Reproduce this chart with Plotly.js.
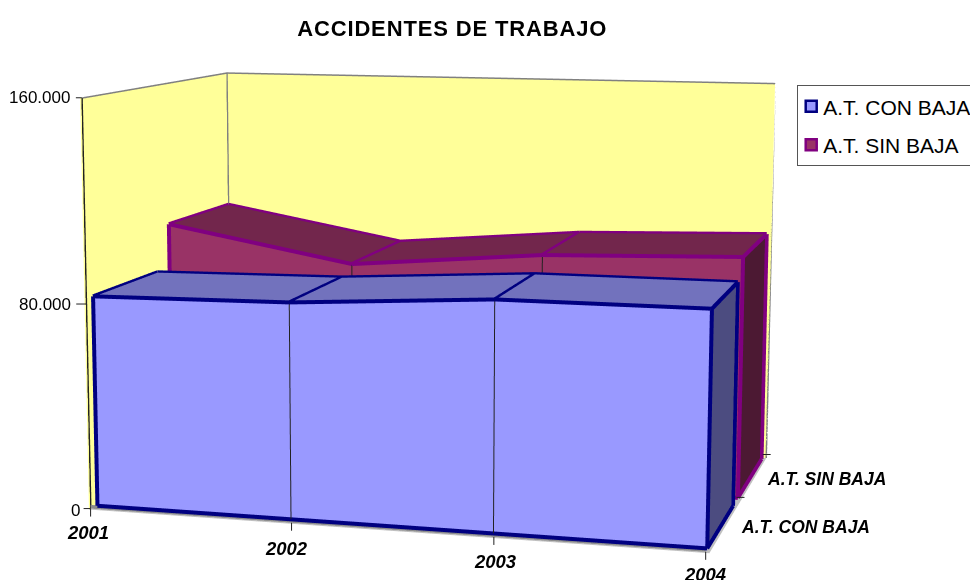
<!DOCTYPE html>
<html><head><meta charset="utf-8"><script src="https://cdn.plot.ly/plotly-3.0.1.min.js"></script>
<style>html,body{margin:0;overflow:hidden;background:#fff;width:970px;height:580px}
.gtitle{letter-spacing:.85px}.legendtext{transform:translateX(-15px)}.legendsymbols{transform:translateX(-7px)}
.legend .traces{opacity:1 !important}</style></head>
<body><div id="c" style="position:absolute"></div>
<script>
const years=['2001','2002','2003','2004'];
const seriesNames=['A.T. CON BAJA','A.T. SIN BAJA'];
const conBaja=[83100,84200,88800,88900];
const sinBaja=[101500,87800,94600,96900];
const zTicks=[0,80000,160000];
const zLabels=['0','80.000','160.000'];

const H=1960,cx=443.79,cy=288.78,left=cx-H/2,top0=cy-H/2;
const aspect={x:1.4735,y:0.9737,z:0.9714};
const eye={x:1.4798,y:-5.5287,z:0.8842},up={x:-0.0661,y:0.2386,z:1};
const dv=document.getElementById('c');dv.style.left=left+'px';dv.style.top=top0+'px';dv.style.width=H+'px';dv.style.height=H+'px';
const px=v=>(v-left)/H,py=v=>1-(v-top0)/H;

const tr=[];
function quads(X,Y,Z,col){
 const n=X.length/2,i=[],j=[],k=[];
 for(let a=0;a<n-1;a++){i.push(a,a+1);j.push(a+1,a+1+n);k.push(a+n,a+n);}
 tr.push({type:'mesh3d',x:X,y:Y,z:Z,i,j,k,color:col,flatshading:true,hoverinfo:'skip',showscale:false,lighting:{ambient:1,diffuse:0,specular:0,fresnel:0,roughness:1},showlegend:false});
}
function lines(X,Y,Z,col,w){tr.push({type:'scatter3d',mode:'lines',x:X,y:Y,z:Z,line:{color:col,width:w},hoverinfo:'skip',showlegend:false,connectgaps:false});}
const xs=[0,1,2,3],XMIN=-0.04,XMAX=3.02,YMIN=-0.02,ZMIN=-1500,YMAX=2;
function solid(v,y0,y1,cF,cT,cS,cL){
 const rep=a=>a.concat(a);
 quads(rep(xs),xs.map(()=>y0).concat(xs.map(()=>y0)),xs.map(()=>0).concat(v),cF);
 quads(rep(xs),xs.map(()=>y0).concat(xs.map(()=>y1)),v.concat(v),cT);
 quads([3,3,3,3],[y0,y1,y0,y1],[0,0,v[3],v[3]],cS);
 const X=[],Y=[],Z=[];
 const off=a=>[a[0]+(a[0]===3?0.008:0),a[1]-0.008,a[2]+(a[2]>0?150:0)];
 const seg=(A,B)=>{const a=off(A),b=off(B);X.push(a[0],b[0],null);Y.push(a[1],b[1],null);Z.push(a[2],b[2],null);};
 for(let i=0;i<3;i++){seg([i,y0,v[i]],[i+1,y0,v[i+1]]);seg([i,y1,v[i]],[i+1,y1,v[i+1]]);seg([i,y0,0],[i+1,y0,0]);}
 for(let i=0;i<4;i++)seg([i,y0,v[i]],[i,y1,v[i]]);
 seg([0,y0,0],[0,y0,v[0]]);seg([3,y0,0],[3,y0,v[3]]);seg([3,y1,0],[3,y1,v[3]]);seg([3,y0,0],[3,y1,0]);
 lines(X,Y,Z,cL,8);
 lines([1,1,null,2,2],[y0-.008,y0-.008,null,y0-.008,y0-.008],[0,v[1],null,0,v[2]],'#222222',2);
}
solid(conBaja,0,0.83,'#9999ff','#7272bd','#4c4c80','#000080');
solid(sinBaja,1,1.9,'#993366','#72264c','#4c1933','#800080');
quads([XMIN,3,XMIN,3],[0,0,0,0],[ZMIN,ZMIN,0,0],'#8c8c8c');
const wz=159900,wy=1.999,wx=XMIN+0.001;
lines([wx,wx,XMAX,XMAX,null,wx,wx],[0,wy,wy,wy,null,wy,wy],[wz,wz,wz,ZMIN,null,ZMIN,wz],'#808080',3);
lines([wx,wx],[0,0],[ZMIN,wz],'#222222',3);
seriesNames.forEach((n,i)=>tr.push({type:'scatter3d',mode:'markers',visible:'legendonly',name:n,legendgroup:n,x:[0],y:[0],z:[0],marker:{symbol:'square',size:11,color:i?'#993366':'#9999ff',line:{color:i?'#800080':'#000080',width:2.5}}}));

const fam='Liberation Sans, Arial, sans-serif';
const fL={family:fam,size:17,color:'#000'};
const fB={family:fam,size:17.5,color:'#000',weight:700,style:'italic'};
const fY={family:fam,size:18.5,color:'#000',weight:700,style:'italic'};
const fT={family:fam,size:1,color:'rgba(0,0,0,0)'};
const ann=[];
function tick(x,y,z,ax,ay){ann.push({x,y,z,text:'\u00a0',font:fT,showarrow:true,arrowhead:0,arrowwidth:1,arrowcolor:'#222',ax,ay,standoff:0,startstandoff:0,borderpad:0,borderwidth:0});}
function lab(x,y,z,t,f,xs,ys,xa){ann.push({x,y,z,text:t,showarrow:false,font:f,xshift:xs,yshift:ys,xanchor:xa||'center',yanchor:'middle'});}
zTicks.forEach((t,i)=>{const zz=i?t:ZMIN;tick(XMIN,0,zz,[-7,-10,-6][i],0);lab(XMIN,0,zz,zLabels[i],fL,[-9,-13,-10][i],i?0:-2,'right');});
const yrShift=[[-3,-24],[-5,-26],[2,-25],[-1,-23]];
years.forEach((t,i)=>{const xv=i?i:XMIN;tick(xv,0,ZMIN,0,8);lab(xv,0,ZMIN,t,fY,yrShift[i][0],yrShift[i][1]);});
tick(3,1,0,8,0);tick(3,2,0,8,0);
lab(3,1,0,seriesNames[0],fB,69,-30);lab(3,2,0,seriesNames[1],fB,63.5,-24);

const ax0={showgrid:false,zeroline:false,showspikes:false,showbackground:true,showticklabels:false,ticks:'',showline:false,title:{text:''}};
Plotly.newPlot('c',tr,{width:H,height:H,margin:{l:0,r:0,t:0,b:0,pad:0},paper_bgcolor:'#fff',
title:{text:'<b>ACCIDENTES DE TRABAJO</b>',x:px(452),y:py(28),xref:'paper',yref:'paper',xanchor:'center',yanchor:'middle',font:{family:fam,size:22,color:'#000'}},
showlegend:true,legend:{x:px(797),y:py(85),xanchor:'left',yanchor:'top',bordercolor:'#555',borderwidth:1,bgcolor:'#fff',tracegroupgap:8,itemclick:false,font:{family:fam,size:21,color:'#000'}},
scene:{aspectmode:'manual',aspectratio:aspect,domain:{x:[0,1],y:[0,1]},annotations:ann,
xaxis:Object.assign({},ax0,{range:[XMIN,XMAX],backgroundcolor:'#ffff99'}),
yaxis:Object.assign({},ax0,{range:[YMIN,YMAX],backgroundcolor:'#ffff99'}),
zaxis:Object.assign({},ax0,{range:[ZMIN,160000],backgroundcolor:'#c0c0c0'}),
camera:{eye,center:{x:0,y:0,z:0},up}}
},{displayModeBar:false});
</script></body></html>
